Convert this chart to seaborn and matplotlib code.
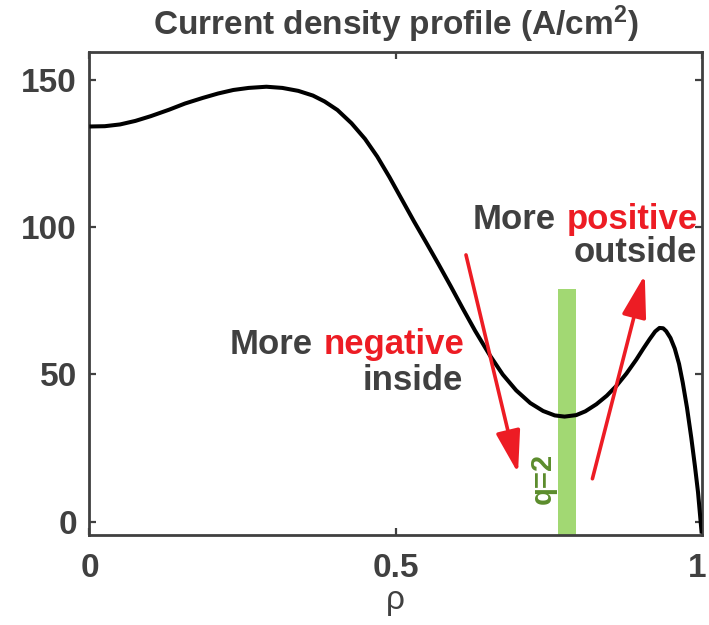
import matplotlib
matplotlib.use("Agg")
import matplotlib.pyplot as plt
from matplotlib.patches import ArrowStyle
from matplotlib.transforms import ScaledTranslation
import seaborn as sns
import pandas as pd

# Current density profile J(rho), A/cm^2
rho = [0.00, 0.025, 0.05, 0.075, 0.10, 0.13, 0.156, 0.185, 0.21, 0.235, 0.26,
       0.289, 0.315, 0.341, 0.365, 0.384, 0.405, 0.428, 0.45, 0.47, 0.49,
       0.51, 0.53, 0.55, 0.57, 0.59, 0.61, 0.63, 0.654, 0.675, 0.697, 0.72,
       0.741, 0.76, 0.776, 0.795, 0.81, 0.828, 0.845, 0.861, 0.877, 0.893,
       0.905, 0.915, 0.924, 0.931, 0.937, 0.942, 0.949, 0.956, 0.963, 0.969,
       0.976, 0.983, 0.989, 0.994, 1.0]
current = [134.2, 134.3, 134.9, 136.1, 137.7, 139.9, 142.0, 143.9, 145.4, 146.6,
           147.3, 147.7, 147.3, 146.3, 144.7, 142.7, 139.8, 135.3, 130.0, 124.0,
           117.0, 109.5, 102.0, 94.8, 87.5, 80.0, 72.3, 64.8, 56.5, 50.0, 44.6,
           40.3, 37.6, 36.1, 35.7, 36.2, 37.5, 39.9, 42.8, 46.2, 50.3, 55.0,
           58.9, 62.0, 64.6, 65.8, 65.7, 64.7, 62.4, 58.8, 53.6, 47.3, 38.7,
           28.5, 18.8, 10.0, -4.0]

# q=2 surface marker
q2_rho = 0.78
q2_width = 0.031
q2_top = 79.0

# Arrows: (rho_start, J_start) -> (rho_end, J_end)
arrow_inside = [(0.615, 90.6), (0.700, 16.5)]
arrow_outside = [(0.8215, 14.6), (0.907, 83.8)]

x_ticks = [0, 0.5, 1]
x_tick_labels = ["0", "0.5", "1"]
y_ticks = [0, 50, 100, 150]

GRAY = "#404040"
RED = "#ED1C24"
GREEN = "#A2D873"
DKGREEN = "#5B8C2C"

sns.set_theme(style="ticks")
plt.rcParams["font.family"] = ["Liberation Sans", "DejaVu Sans"]
plt.rcParams["mathtext.default"] = "regular"

fig = plt.figure(figsize=(7.09, 6.25), dpi=100)
ax = fig.add_axes([0.1262, 0.144, 0.8635, 0.7733])

ax.bar(q2_rho, q2_top + 4.5, bottom=-4.5, width=q2_width, color=GREEN,
       linewidth=0, zorder=1)

df = pd.DataFrame({"rho": rho, "J": current})
sns.lineplot(data=df, x="rho", y="J", ax=ax, color="black", linewidth=2.9,
             sort=False, estimator=None, zorder=3,
             solid_joinstyle="round", solid_capstyle="butt")

style = ArrowStyle("-|>", head_length=26, head_width=7.5)
for (x0, y0), (x1, y1) in (arrow_inside, arrow_outside):
    ax.annotate("", xy=(x1, y1), xytext=(x0, y0), xycoords="data",
                arrowprops=dict(arrowstyle=style, mutation_scale=1, lw=2.6,
                                color=RED, shrinkA=0, shrinkB=0),
                zorder=4)

ax.set_xlim(0, 1)
ax.set_ylim(-4.5, 159.6)
ax.set_xticks(x_ticks)
ax.set_xticklabels(x_tick_labels)
ax.set_yticks(y_ticks)

for side in ["left", "right", "top", "bottom"]:
    ax.spines[side].set_visible(True)
    ax.spines[side].set_color(GRAY)
    ax.spines[side].set_linewidth(2.0)

ax.tick_params(direction="in", length=5, width=1.6, color=GRAY,
               top=True, right=True, labelsize=24, labelcolor=GRAY)
ax.tick_params(axis="x", pad=13)
ax.tick_params(axis="y", pad=9)
for lab in ax.get_xticklabels() + ax.get_yticklabels():
    lab.set_fontweight("bold")
# keep the last x label inside the canvas
last = ax.get_xticklabels()[-1]
last.set_transform(last.get_transform() + ScaledTranslation(-5 / 100, 0, fig.dpi_scale_trans))

ax.set_xlabel("ρ", fontsize=24, color=GRAY, labelpad=1)
ax.set_ylabel("")
ax.set_title("Current density profile (A/cm$^2$)", fontsize=24,
             fontweight="bold", color=GRAY, pad=12)

# Annotation texts
kw = dict(fontsize=25, fontweight="bold")
neg = ax.text(0.613, 57.0, "negative", color=RED, ha="right", va="baseline", **kw)
ax.annotate("More", xy=(0, 0), xycoords=neg, xytext=(-8, 0),
            textcoords="offset points", ha="right", va="bottom", color=GRAY, **kw)
ax.text(0.61, 44.8, "inside", color=GRAY, ha="right", va="baseline", **kw)

pos = ax.text(0.9935, 99.3, "positive", color=RED, ha="right", va="baseline", **kw)
ax.annotate("More", xy=(0, 0), xycoords=pos, xytext=(-8, 0),
            textcoords="offset points", ha="right", va="bottom", color=GRAY, **kw)
ax.text(0.992, 88.3, "outside", color=GRAY, ha="right", va="baseline", **kw)

ax.text(0.7396, 14.6, "q=2", color=DKGREEN, rotation=90, ha="center",
        va="center", fontsize=21, fontweight="bold")

fig.savefig("out.png", dpi=100)
